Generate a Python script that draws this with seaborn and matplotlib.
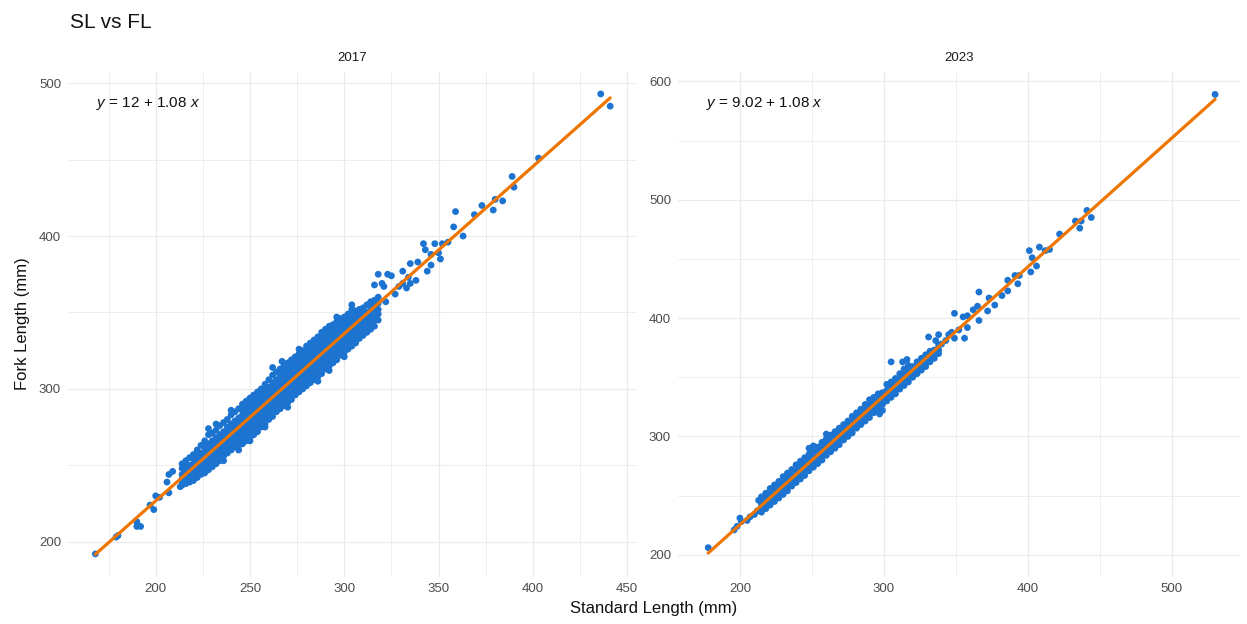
import numpy as np
import pandas as pd
import matplotlib
matplotlib.use("Agg")
import matplotlib.pyplot as plt
import seaborn as sns
from matplotlib.ticker import FixedLocator

# ---------------- data ----------------
panels = ["2017", "2023"]
equations = [r"$y$ = 12 + 1.08 $x$", r"$y$ = 9.02 + 1.08 $x$"]

# 2017: dense core, one column of fork lengths per standard length
sl_cols_2017 = [214, 216, 218, 220, 222, 224, 226, 228, 230, 232, 234, 236, 238, 240,
                242, 244, 246, 248, 250, 252, 254, 256, 258, 260, 262, 264, 266, 268,
                270, 272, 274, 276, 278, 280, 282, 284, 286, 288, 290, 292, 294, 296,
                298, 300, 302, 304, 306, 308, 310, 312, 314, 316, 318]
fl_cols_2017 = [
    [237, 241, 244, 248, 251],
    [238, 242, 246, 249, 253],
    [239, 243, 247, 250, 255],
    [240, 244, 247, 251, 254, 257],
    [242, 245, 249, 252, 256, 260],
    [244, 247, 251, 254, 258, 263],
    [245, 249, 252, 256, 259, 262, 266],
    [247, 251, 254, 257, 261, 264, 270],
    [249, 252, 256, 259, 262, 266, 271],
    [251, 254, 258, 261, 264, 268, 273],
    [253, 256, 260, 263, 267, 270, 276],
    [256, 259, 262, 265, 269, 272, 278],
    [258, 261, 264, 268, 271, 275, 280],
    [260, 263, 267, 270, 273, 277, 283],
    [262, 265, 269, 272, 275, 279, 285],
    [263, 267, 270, 274, 277, 281, 287],
    [264, 268, 272, 276, 279, 283, 286, 290],
    [266, 270, 274, 277, 281, 285, 288, 292],
    [268, 272, 276, 279, 283, 287, 290, 294],
    [270, 274, 278, 281, 285, 289, 292, 296],
    [272, 276, 280, 283, 287, 291, 294, 298],
    [275, 278, 282, 285, 289, 293, 296, 300],
    [277, 281, 284, 288, 291, 295, 299, 303],
    [280, 283, 287, 290, 294, 297, 301, 306],
    [282, 286, 289, 293, 296, 300, 304, 309],
    [285, 288, 292, 295, 299, 302, 306, 311],
    [287, 290, 294, 297, 301, 305, 309, 313],
    [289, 293, 296, 300, 303, 307, 311, 315],
    [291, 295, 298, 302, 305, 309, 313, 317],
    [293, 297, 300, 304, 308, 311, 315, 319],
    [296, 299, 303, 306, 310, 313, 317, 321],
    [298, 301, 305, 308, 312, 316, 319, 323],
    [300, 304, 307, 311, 314, 318, 321, 325],
    [302, 306, 309, 313, 316, 320, 324, 328],
    [304, 308, 311, 315, 319, 322, 326, 330],
    [306, 310, 313, 317, 321, 324, 328, 332],
    [308, 312, 315, 319, 323, 327, 330, 334],
    [310, 314, 318, 321, 325, 329, 333, 337],
    [313, 316, 320, 324, 327, 331, 335, 339],
    [315, 318, 322, 326, 330, 333, 337, 341],
    [317, 321, 324, 328, 332, 335, 339, 342],
    [319, 323, 327, 330, 334, 337, 341, 344],
    [322, 325, 329, 332, 336, 340, 343, 346],
    [324, 327, 331, 334, 338, 341, 344, 347],
    [326, 330, 333, 337, 340, 343, 346, 349],
    [328, 332, 335, 339, 342, 345, 348, 352],
    [330, 334, 337, 341, 344, 347, 351],
    [333, 336, 340, 343, 346, 349, 352],
    [335, 338, 342, 345, 348, 351, 353],
    [337, 341, 344, 347, 350, 355],
    [339, 343, 346, 349, 353, 357],
    [341, 345, 348, 352, 355, 358],
    [345, 349, 352, 356, 360],
]
# 2017: scattered fish outside the core
sl_extra_2017 = [168, 179, 180, 190, 190, 192, 197, 199, 200, 202, 207, 207, 206, 209,
                 213, 214, 228, 232, 240, 262, 267, 276, 296, 304, 250, 258, 270, 292,
                 300, 286, 236, 244,
                 316, 318, 321, 320, 323, 325, 329, 331, 331, 334, 335, 335, 339, 342,
                 343, 346, 346, 348, 350, 352, 355, 358, 359, 369, 373, 379, 380, 389,
                 390, 403, 436, 441,
                 322, 327, 333, 338, 344, 351, 363, 384]
fl_extra_2017 = [192, 203, 204, 210, 213, 210, 224, 221, 230, 229, 232, 244, 239, 246,
                 236, 239, 274, 277, 286, 314, 318, 326, 347, 355, 266, 275, 288, 312,
                 321, 305, 253, 260,
                 368, 375, 367, 369, 375, 374, 367, 369, 377, 373, 369, 382, 383, 395,
                 391, 388, 381, 395, 389, 395, 396, 406, 416, 414, 420, 417, 424, 439,
                 432, 451, 493, 485,
                 357, 362, 366, 371, 377, 385, 400, 423]

# 2023: dense core
sl_cols_2023 = [215, 218, 221, 224, 227, 230, 233, 236, 239, 242, 245, 248, 251, 254,
                257, 260, 263, 266, 269, 272, 275, 278, 281, 284, 287, 290, 293, 296,
                299, 302, 305, 308, 311, 314, 317, 320, 323, 326, 329, 332, 335, 338]
fl_cols_2023 = [
    [236, 239, 242, 245, 249],
    [239, 242, 245, 248, 252],
    [242, 245, 248, 251, 256],
    [245, 248, 251, 254, 259],
    [248, 251, 254, 258, 262],
    [251, 254, 257, 261, 266],
    [254, 258, 261, 264, 269],
    [258, 261, 264, 267, 272],
    [261, 264, 267, 271, 276],
    [264, 267, 270, 274, 279],
    [267, 271, 274, 277, 282],
    [271, 274, 277, 280, 285, 290],
    [274, 277, 280, 283, 288, 292],
    [277, 280, 283, 287, 291],
    [280, 284, 287, 290, 295],
    [284, 287, 290, 293, 298, 302],
    [287, 290, 293, 296, 301],
    [290, 293, 296, 300, 304],
    [293, 297, 300, 303, 307],
    [297, 300, 303, 306, 310],
    [300, 303, 306, 309, 313],
    [303, 306, 309, 313, 317],
    [307, 310, 313, 316, 320],
    [310, 313, 316, 319, 323],
    [313, 316, 319, 322, 327],
    [316, 320, 323, 326, 331],
    [320, 323, 326, 329, 333],
    [323, 326, 329, 332, 336],
    [322, 327, 330, 333, 337],
    [330, 333, 336, 339, 344],
    [333, 336, 339, 342, 346],
    [336, 339, 342, 345, 349],
    [340, 343, 346, 349, 353],
    [343, 346, 349, 352, 357],
    [346, 349, 352, 356, 360],
    [350, 353, 356, 359],
    [353, 356, 359, 363],
    [356, 359, 362, 366],
    [359, 362, 366, 369],
    [363, 366, 369, 372],
    [366, 369, 373],
    [370, 373, 377],
]
sl_extra_2023 = [178, 196, 198, 200, 201, 205, 207, 210, 212, 213,
                 297, 305, 313, 316, 331, 336, 338, 340, 343, 345, 347, 349, 352, 356,
                 358, 349, 355, 358, 362, 365, 366, 366, 373, 372, 377, 382, 386, 386,
                 391, 394, 393, 401, 403, 406, 402, 408, 412, 415, 422, 433, 436, 437,
                 441, 444, 530]
fl_extra_2023 = [206, 221, 224, 231, 228, 229, 232, 234, 237, 246,
                 319, 363, 363, 365, 384, 381, 386, 378, 381, 386, 388, 383, 390, 383,
                 392, 404, 401, 402, 407, 410, 422, 398, 417, 406, 411, 419, 423, 432,
                 436, 436, 429, 457, 451, 444, 439, 460, 457, 458, 471, 482, 476, 482,
                 491, 485, 589]

x_major = [[200, 250, 300, 350, 400, 450], [200, 300, 400, 500]]
x_minor = [[175, 225, 275, 325, 375, 425], [250, 350, 450]]
y_major = [[200, 300, 400, 500], [200, 300, 400, 500, 600]]
y_minor = [[250, 350, 450], [250, 350, 450, 550]]
x_lims = [(153.5, 454.7), (157.0, 547.3)]
y_lims = [(176.9, 508.0), (181.2, 608.8)]


def expand(sl_cols, fl_cols, sl_extra, fl_extra):
    sl = [s for s, fs in zip(sl_cols, fl_cols) for _ in fs] + list(sl_extra)
    fl = [f for fs in fl_cols for f in fs] + list(fl_extra)
    return pd.DataFrame({"sl": sl, "fl": fl})


frames = [expand(sl_cols_2017, fl_cols_2017, sl_extra_2017, fl_extra_2017),
          expand(sl_cols_2023, fl_cols_2023, sl_extra_2023, fl_extra_2023)]

# ---------------- styling ----------------
sns.set_theme(style="white")
plt.rcParams["font.family"] = ["Liberation Sans", "DejaVu Sans"]
plt.rcParams["mathtext.fontset"] = "custom"
plt.rcParams["mathtext.it"] = "Liberation Sans:italic"
plt.rcParams["mathtext.rm"] = "Liberation Sans"

BLUE = "#1C74D0"
ORANGE = "#EE7600"
GRID = "#EBEBEB"

W, H = 1247, 624
fig = plt.figure(figsize=(W / 100, H / 100), dpi=100)
fig.patch.set_facecolor("white")


def box(l, t, r, b):
    return [l / W, 1 - b / H, (r - l) / W, (b - t) / H]


axes = [fig.add_axes(box(68, 71, 636, 577)), fig.add_axes(box(678, 71, 1240, 577))]

for i, ax in enumerate(axes):
    df = frames[i]
    ax.set_axisbelow(True)
    sns.scatterplot(data=df, x="sl", y="fl", ax=ax, color=BLUE, s=24,
                    linewidth=0, edgecolor="none", zorder=3)
    sns.regplot(data=df, x="sl", y="fl", ax=ax, scatter=False, ci=None,
                truncate=True, color=ORANGE, line_kws={"linewidth": 2.3, "zorder": 4})
    ax.set_xlim(*x_lims[i])
    ax.set_ylim(*y_lims[i])
    ax.xaxis.set_major_locator(FixedLocator(x_major[i]))
    ax.xaxis.set_minor_locator(FixedLocator(x_minor[i]))
    ax.yaxis.set_major_locator(FixedLocator(y_major[i]))
    ax.yaxis.set_minor_locator(FixedLocator(y_minor[i]))
    ax.grid(which="major", color=GRID, linewidth=0.9)
    ax.grid(which="minor", color=GRID, linewidth=0.6)
    for sp in ax.spines.values():
        sp.set_visible(False)
    ax.tick_params(which="both", length=0)
    ax.tick_params(axis="x", labelsize=9.5, labelcolor="#4D4D4D", pad=4)
    ax.tick_params(axis="y", labelsize=9.5, labelcolor="#4D4D4D", pad=5)
    ax.set_xlabel("")
    ax.set_ylabel("")
    ax.text(0.5, 1 + 13 / 506, panels[i], transform=ax.transAxes, ha="center",
            va="center", fontsize=9.5, color="#1A1A1A")
    ax.text(0.05, 0.935, equations[i], transform=ax.transAxes, ha="left",
            va="center", fontsize=11, color="#111111")

fig.text(70 / W, 1 - 22 / H, "SL vs FL", ha="left", va="center", fontsize=15,
         color="#111111")
fig.text(654 / W, 1 - 609 / H, "Standard Length (mm)", ha="center", va="center",
         fontsize=12, color="#111111")
fig.text(23 / W, 1 - 324 / H, "Fork Length (mm)", ha="center", va="center",
         rotation=90, fontsize=12, color="#111111")

fig.savefig("out.png", dpi=100, facecolor="white")
